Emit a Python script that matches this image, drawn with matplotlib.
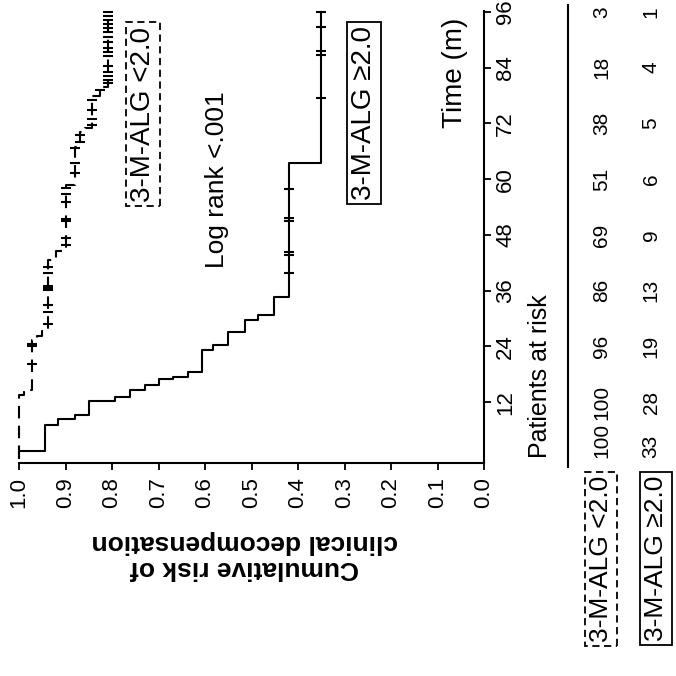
import numpy as np
import matplotlib
matplotlib.use('Agg')
import matplotlib.pyplot as plt
from matplotlib import transforms
from matplotlib.lines import Line2D

plt.rcParams['font.family'] = ['Liberation Sans', 'DejaVu Sans']

# 3-M-ALG >= 2.0 (solid line): event times (months) and risk after each step
hi_time = [0, 1.5, 7.0, 8.3, 9.2, 12.3, 13.1, 14.6, 15.7, 16.9, 17.4, 18.5,
           23.3, 24.4, 27.1, 29.7, 30.7, 34.7, 63.4]
hi_risk = [1.0, 0.944, 0.916, 0.880, 0.850, 0.793, 0.761, 0.729, 0.700, 0.669,
           0.637, 0.607, 0.583, 0.550, 0.514, 0.486, 0.452, 0.419, 0.351]
hi_cens = [39.7, 43.6, 44.3, 51.0, 51.7, 57.8, 77.5, 86.8, 87.6, 92.7, 96.0]

# 3-M-ALG < 2.0 (dashed line)
lo_time = [0, 13.5, 14.6, 25.3, 26.3, 27.3, 42.6, 44.6, 58.8, 67.0, 70.2,
           71.1, 77.8, 79.8]
lo_risk = [1.0, 0.990, 0.973, 0.962, 0.950, 0.937, 0.920, 0.898, 0.880, 0.869,
           0.858, 0.844, 0.826, 0.808]
lo_cens = [20.3, 24.0, 24.6, 28.9, 31.4, 32.9, 36.1, 36.5, 36.9, 39.7, 41.1,
           45.8, 47.3, 51.0, 51.4, 55.1, 56.9, 58.0, 61.3, 63.4, 66.7, 68.0,
           69.5, 71.6, 73.0, 74.8, 77.0, 79.3, 80.6, 81.4, 82.2, 83.0, 84.3,
           86.5, 87.3, 88.3, 89.5, 90.6, 91.6, 92.5, 93.4, 94.2, 95.1, 96.0]
t_end = 96

months = [0, 12, 24, 36, 48, 60, 72, 84, 96]
at_risk_lo = [100, 100, 96, 86, 69, 51, 38, 18, 3]
at_risk_hi = [33, 28, 19, 13, 9, 6, 5, 4, 1]
risk_ticks = [1.0, 0.9, 0.8, 0.7, 0.6, 0.5, 0.4, 0.3, 0.2, 0.1, 0.0]
time_ticks = [12, 24, 36, 48, 60, 72, 84, 96]


def km_path(times, risk, end):
    t = np.append(np.repeat(times, 2)[1:], end)
    r = np.repeat(risk, 2)
    return r, t


def cens_risk(times, risk, cens):
    idx = np.searchsorted(times, cens, side='right') - 1
    return np.array(risk)[idx]


W = 676
fig = plt.figure(figsize=(6.76, 6.76), dpi=100)
ax = fig.add_axes([19 / W, 1 - 463 / W, (484 - 19) / W, (463 - 11) / W])

# figure is drawn turned by 90 degrees: risk runs along x, time along y
r, t = km_path(lo_time, lo_risk, t_end)
ax.plot(r, t, color='k', lw=1.5, ls=(0, (6, 3.5)), clip_on=False)
ax.plot(cens_risk(lo_time, lo_risk, lo_cens), lo_cens, ls='none', marker='_',
        ms=7, mew=1.5, color='k', clip_on=False)

r, t = km_path(hi_time, hi_risk, t_end)
ax.plot(r, t, color='k', lw=1.5, clip_on=False)
ax.plot(cens_risk(hi_time, hi_risk, hi_cens), hi_cens, ls='none', marker='_',
        ms=7, mew=1.5, color='k', clip_on=False)

ax.set_xlim(1.0, 0.0)
ax.set_ylim(-1.1, 96.2)
ax.spines['left'].set_visible(False)
ax.spines['top'].set_visible(False)
ax.spines['bottom'].set_linewidth(1.5)
ax.spines['right'].set_linewidth(1.5)
ax.yaxis.tick_right()
ax.set_xticks(risk_ticks, ['%.1f' % v for v in risk_ticks])
ax.set_yticks(time_ticks, [str(v) for v in time_ticks])
ax.tick_params(axis='x', direction='out', length=5, width=1.3, labelsize=16,
               labelrotation=90, pad=5)
ax.tick_params(axis='y', direction='out', length=5, width=1.3, labelsize=16,
               labelrotation=90, pad=3)
for lab in ax.get_yticklabels():
    lab.set_va('center')

ax.text(0.574, 59.8, 'Log rank <.001', rotation=90, ha='center', va='center',
        fontsize=19)
ax.text(0.733, 74.0, '3-M-ALG <2.0', rotation=90, ha='center', va='center',
        fontsize=20, bbox=dict(boxstyle='square,pad=0.15', fc='none', ec='k',
                               ls=(0, (4, 2.5)), lw=1.3))
ax.text(0.258, 74.3, '3-M-ALG \u22652.0', rotation=90, ha='center', va='center',
        fontsize=20, bbox=dict(boxstyle='square,pad=0.15', fc='none', ec='k',
                               lw=1.3))
ax.text(0.062, 82.8, 'Time (m)', rotation=90, ha='center', va='center',
        fontsize=20)

fig.text(0.362, 0.179, 'Cumulative risk of\nclinical decompensation',
         rotation=180, ha='center', va='center', fontsize=19,
         fontweight='bold', multialignment='center', linespacing=1.1)

# patients at risk table
trans = transforms.blended_transform_factory(fig.transFigure, ax.transData)
ax.text(540 / W, 0, 'Patients at risk', rotation=90, ha='center',
        va='bottom', fontsize=18, transform=trans, clip_on=False)
fig.add_artist(Line2D([568 / W, 568 / W], [-2.0, 97.5], transform=trans,
                      color='k', lw=1.5))
for m, a, b in zip(months, at_risk_lo, at_risk_hi):
    va = 'bottom' if m == 0 else 'center'
    ax.text(602 / W, m, str(a), rotation=90, ha='center', va=va, fontsize=15,
            transform=trans, clip_on=False)
    ax.text(651 / W, m, str(b), rotation=90, ha='center', va=va, fontsize=15,
            transform=trans, clip_on=False)
ax.text(601 / W, -3.9, '3-M-ALG <2.0', rotation=90, ha='center', va='top',
        fontsize=19, transform=trans, clip_on=False,
        bbox=dict(boxstyle='square,pad=0.15', fc='none', ec='k',
                  ls=(0, (4, 2.5)), lw=1.3))
ax.text(656 / W, -3.9, '3-M-ALG \u22652.0', rotation=90, ha='center', va='top',
        fontsize=19, transform=trans, clip_on=False,
        bbox=dict(boxstyle='square,pad=0.15', fc='none', ec='k', lw=1.3))

fig.savefig('out.png', dpi=100)
